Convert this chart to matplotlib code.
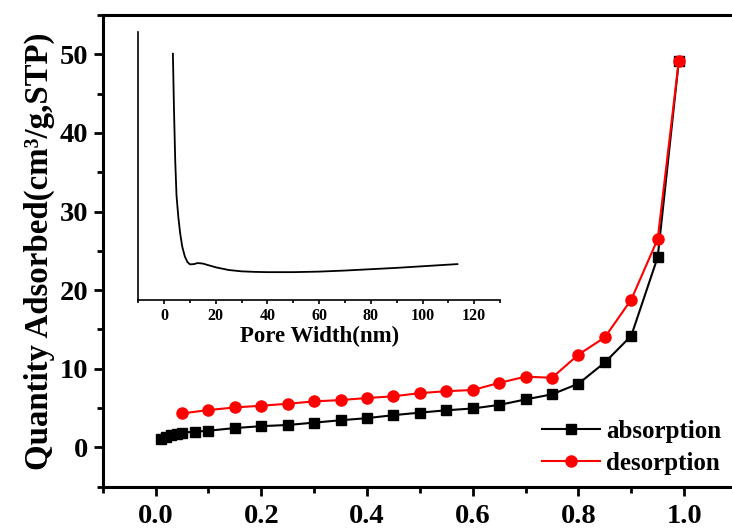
import numpy as np
import matplotlib
matplotlib.use("Agg")
import matplotlib.pyplot as plt
from matplotlib.ticker import MultipleLocator

# isotherm data (relative pressure P/P0, quantity adsorbed)
ads_x = [0.01, 0.02, 0.03, 0.04, 0.05, 0.075, 0.1, 0.15, 0.2, 0.25, 0.3, 0.35,
         0.4, 0.45, 0.5, 0.55, 0.6, 0.65, 0.7, 0.75, 0.8, 0.85, 0.9, 0.95, 0.99]
ads_y = [1.1, 1.35, 1.55, 1.72, 1.88, 2.0, 2.12, 2.46, 2.7, 2.85, 3.15, 3.45,
         3.72, 4.1, 4.42, 4.72, 4.95, 5.4, 6.1, 6.75, 8.1, 10.8, 14.2, 24.2, 49.2]
des_x = [0.05, 0.1, 0.15, 0.2, 0.25, 0.3, 0.35, 0.4, 0.45, 0.5, 0.55, 0.6,
         0.65, 0.7, 0.75, 0.8, 0.85, 0.9, 0.95, 0.99]
des_y = [4.32, 4.75, 5.08, 5.3, 5.55, 5.85, 6.02, 6.28, 6.5, 6.9, 7.15, 7.3,
         8.2, 9.0, 8.85, 11.8, 14.0, 18.8, 26.5, 49.2]

# pore size distribution (inset), arbitrary units
pore_w = [3.4, 3.8, 4.3, 4.8, 5.5, 6.2, 7.0, 8.0, 9.0, 10.0, 11.5, 13.0, 15.0,
          17.5, 20, 25, 30, 35, 40, 50, 60, 70, 80, 90, 100, 110, 113.5]
pore_v = [0.92, 0.72, 0.52, 0.39, 0.31, 0.25, 0.2, 0.163, 0.142, 0.133, 0.134,
          0.138, 0.136, 0.129, 0.122, 0.112, 0.107, 0.105, 0.104, 0.104, 0.106,
          0.110, 0.115, 0.120, 0.126, 0.132, 0.134]

plt.rcParams['font.family'] = ['Liberation Serif', 'DejaVu Serif']
plt.rcParams['font.weight'] = 'bold'

fig = plt.figure(figsize=(7.32, 5.30), dpi=100)
ax = fig.add_axes([0.1403, 0.0817, 1.0068 - 0.1403, 0.9717 - 0.0817])

ax.plot(ads_x, ads_y, '-s', color='black', lw=1.5, ms=6.5, label='absorption')
ax.plot(des_x, des_y, '-o', color='red', lw=1.5, ms=8, label='desorption')

ax.set_xlim(-0.1, 1.1)
ax.set_ylim(-5, 55)
ax.xaxis.set_minor_locator(MultipleLocator(0.1))
ax.yaxis.set_major_locator(MultipleLocator(10))
ax.yaxis.set_minor_locator(MultipleLocator(5))
ax.set_xticks(np.arange(0, 1.01, 0.2))
ax.set_xticklabels(['%.1f' % v for v in np.arange(0, 1.01, 0.2)])
for s in ax.spines.values():
    s.set_linewidth(2.2)
ax.tick_params(which='major', direction='out', length=6.5, width=2, labelsize=20.5, pad=4)
ax.tick_params(axis='x', which='major', pad=6)
ax.tick_params(which='minor', direction='out', length=4, width=2)
ax.tick_params(top=False, right=False)
for lab in ax.get_xticklabels() + ax.get_yticklabels():
    lab.set_fontweight('bold')

ax.set_ylabel('Quantity Adsorbed(cm\u00b3/g,STP)', fontsize=23.7, fontweight='bold', labelpad=3)

leg = ax.legend(loc='lower right', bbox_to_anchor=(0.975, 0.025), frameon=False,
                fontsize=18, handlelength=2.3, handletextpad=0.25, labelspacing=0.35,
                borderaxespad=0, borderpad=0)
for t in leg.get_texts():
    t.set_fontweight('bold')

# inset
ins = fig.add_axes([0.1889, 0.434, 0.4942, 0.505])
ins.plot(pore_w, pore_v, color='black', lw=1.3)
ins.set_xlim(-10, 130)
ins.set_ylim(0, 1)
ins.spines['top'].set_visible(False)
ins.spines['right'].set_visible(False)
ins.spines['left'].set_linewidth(1.2)
ins.spines['bottom'].set_linewidth(1.2)
ins.set_yticks([])
ins.xaxis.set_major_locator(MultipleLocator(20))
ins.xaxis.set_minor_locator(MultipleLocator(10))
ins.tick_params(which='major', direction='out', length=3, width=1.2, labelsize=11.5, pad=3)
ins.tick_params(which='minor', direction='out', length=2, width=1.2)
ins.patch.set_alpha(0)
for lab in ins.get_xticklabels():
    lab.set_fontweight('bold')
ins.set_xlabel('Pore Width(nm)', fontsize=16.5, fontweight='bold', labelpad=1)

fig.savefig('out.png', dpi=100)
